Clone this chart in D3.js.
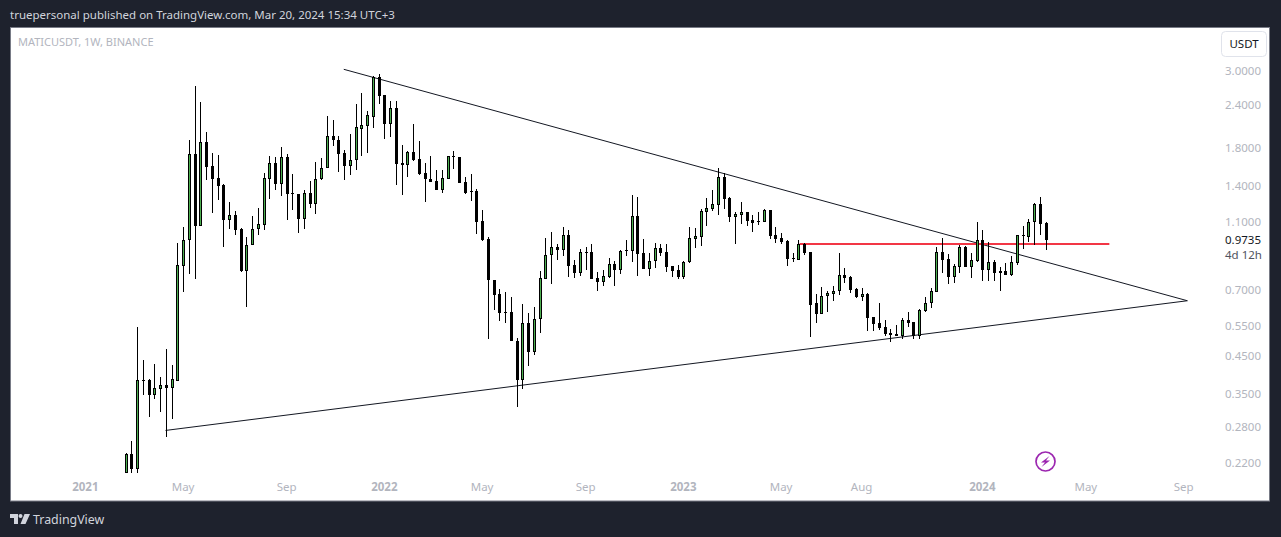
<!DOCTYPE html>
<html>
<head>
<meta charset="utf-8">
<script src="https://cdn.jsdelivr.net/npm/d3@7"></script>
<style>
html, body { margin: 0; padding: 0; background: #1e222d; overflow: hidden; }
text { font-family: "Noto Sans", sans-serif; }
</style>
</head>
<body>
<script>
// weekly candles, first one is the week of 2021-02-22
var firstWeek = new Date(Date.UTC(2021, 1, 22));
var opens = [.2057,.2335,.2113,.3824,.3824,.3461,.3609,.3699,.3634,.3806,.8195,.9703,1.7217,1.0696,1.8651,1.5887,1.4664,1.4003,1.1132,1.1465,1.0442,.7925,.9387,1.0486,1.0769,1.4633,1.6214,1.4154,1.6876,1.3275,1.3187,1.1208,1.3275,1.2387,1.4573,1.5675,1.9405,1.8901,
1.7367,1.5957,1.6542,2.0422,2.0833,2.2121,2.8766,2.5514,2.1114,2.3383,1.6214,1.6065,1.7448,1.6653,1.5168,1.4573,1.4410,1.3598,1.4633,1.6990,1.6876,1.4314,1.3499,1.3454,1.1015,.9770,.7433,.6771,.6017,.6005,.4950,.3832,.5581,.4618,.5732,.7514,.8781,.9262,.9077,1.0034,
.8232,.7820,.8959,.8959,.7533,.7364,.7614,.8270,.7978,.9077,.9055,1.1389,.8899,.8032,.8438,.9200,.8959,.8161,.7946,.7614,.8415,.9810,.9941,1.1743,1.1980,1.2305,1.4770,1.2840,1.1358,1.1511,1.1696,1.1089,1.1052,1.0985,1.1854,1.0034,.9835,.9640,.8607,.8528,.9449,.8959,.6377,
.5950,.6682,.6799,.6908,.7686,.7584,.7000,.6664,.6771,.5808,.5581,.5434,.5221,.5186,.5138,.5693,.5618,.5138,.6070,.6377,.6889,.8959,.8550,.7614,.8139,.9262,.8139,.8471,.9703,.7978,.8381,.7894,.7894,.7701,.8359,1.0054,.9941,1.0943,1.2337,1.0868];
var highs = [.2351,.2547,.5445,.4370,.3850,.4255,.3902,.4702,.4227,.9531,1.0604,1.8939,2.7145,2.4399,1.9977,1.7367,1.7137,1.4096,1.2503,1.1775,1.0508,.9921,1.1411,1.2037,1.5199,1.6990,1.6876,1.8043,1.7217,1.5067,1.3187,1.3544,1.4410,1.6323,1.6798,2.2225,2.1597,1.9405,
1.7683,1.9712,2.4075,2.5908,2.2978,2.9017,2.9347,2.5565,2.4562,2.4562,1.8318,1.7566,2.1070,1.8813,1.6247,1.7023,1.5506,1.5506,1.7023,1.7635,1.6910,1.4799,1.5098,1.3634,1.1901,.9921,.7448,.7014,.6876,.6637,.5050,.6348,.5977,.6209,.7909,.9855,1.0237,.9468,1.0583,1.0395,
.8494,.9158,.9262,.9449,.7841,.7946,.8607,.8438,.9077,.9724,1.3100,1.2952,.9770,.8899,.9512,.9449,.9449,.8193,.8216,.8438,1.0583,1.0508,1.1981,1.2840,1.3544,1.5675,1.5168,1.2926,1.1696,1.2503,1.1720,1.1465,1.1696,1.1933,1.1854,1.0583,1.0168,.9703,.8899,.9703,.9512,.8977,.6771,
.7094,.6908,.7142,.8899,.8052,.7635,.7047,.7047,.6816,.5808,.6389,.5694,.5362,.5518,.5770,.6005,.5630,.6128,.6650,.7047,.9281,.9835,.8858,.8270,.9420,.9361,.8899,1.0943,1.0374,.9576,.8494,.8111,.8326,.8723,1.0034,1.0654,1.1163,1.2470,1.2926,1.0943];
var lows = [.2055,.2057,.2061,.3467,.2994,.3377,.3096,.2620,.2955,.3806,.6889,.7768,.7514,1.0696,1.4536,1.1666,1.2722,.9299,1.0486,1.0075,.7872,.6234,.9387,1.0075,1.0395,1.2807,1.3598,1.3065,1.1132,1.1901,1.0210,1.0486,1.2064,1.1588,1.4477,1.5675,1.8233,1.5331,
1.4536,1.5028,1.5537,1.7057,1.7403,2.0563,2.4125,1.9105,1.9360,1.4059,1.3153,1.4829,1.6497,1.5028,1.2553,1.4342,1.3598,1.3329,1.4573,1.5642,1.4248,1.3241,1.2587,1.0142,.9678,.5037,.6111,.5678,.5603,.4970,.3188,.3609,.4207,.4518,.5242,.7514,.7267,.8528,.8758,.7614,
.7565,.7665,.7978,.7514,.6935,.7170,.7565,.7170,.7768,.8758,.8415,.7665,.8032,.7665,.8086,.8758,.7872,.7614,.7514,.7514,.8359,.9238,.9361,1.0696,1.1821,1.1487,1.1981,1.0985,.9488,1.0841,1.0696,1.0277,1.0769,1.0985,.9810,.9512,.9449,.8193,.8415,.8494,.8817,.5104,.5603,
.5950,.6029,.6488,.6753,.7315,.6844,.6593,.6488,.5312,.5312,.5348,.5138,.4937,.5138,.5037,.5456,.5037,.5037,.6029,.6193,.6889,.7820,.7267,.7315,.7820,.8139,.7565,.8415,.7413,.7413,.7413,.6935,.7717,.7650,.8249,.9140,.9595,.9387,1.0075,.9120];
var closes = [.2335,.2113,.3824,.3810,.3467,.3625,.3699,.3634,.3842,.8216,.9703,1.7217,1.0696,1.8651,1.5851,1.4633,1.3965,1.1132,1.1465,1.0416,.7909,.9387,1.0486,1.0797,1.4664,1.6214,1.4154,1.6876,1.3241,1.3187,1.1208,1.3275,1.2387,1.4573,1.5675,1.9405,1.8901,1.7287,
1.5957,1.6542,2.0616,2.0889,2.2329,2.8766,2.5445,2.1114,2.3383,1.6172,1.6065,1.7448,1.6609,1.5129,1.4573,1.4342,1.3598,1.4664,1.6990,1.6944,1.4248,1.3329,1.3418,1.0985,.9724,.7433,.6753,.5990,.5990,.4970,.3832,.5581,.4618,.5732,.7533,.8781,.9262,.9077,1.0034,.8193,
.7820,.8959,.8917,.7514,.7364,.7635,.8270,.7978,.9019,.9077,1.1389,.8876,.8032,.8438,.9200,.8935,.8139,.7925,.7614,.8415,.9835,.9968,1.1775,1.2012,1.2337,1.4770,1.2807,1.1358,1.1541,1.1696,1.1059,1.0913,1.0985,1.1854,1.0007,.9810,.9595,.8585,.8568,.9449,.8935,.6318,.5950,
.6682,.6816,.6908,.7686,.7565,.6982,.6664,.6771,.5793,.5566,.5420,.5197,.5162,.5138,.5693,.5603,.5138,.6085,.6377,.6908,.8959,.8528,.7614,.8161,.9262,.8139,.8494,.9703,.7978,.8381,.7820,.7820,.7717,.8381,1.0034,1.0007,1.0943,1.2337,1.0841,.9735];

var priceTicks = [3.0, 2.4, 1.8, 1.4, 1.1, 0.7, 0.55, 0.45, 0.35, 0.28, 0.22];
var timeTicks = ['2021-01-04','2021-05-03','2021-09-06','2022-01-03','2022-05-02','2022-09-05','2023-01-02','2023-05-01','2023-08-07','2024-01-01','2024-05-06','2024-09-02'];
var timeLabels = ['2021','May','Sep','2022','May','Sep','2023','May','Aug','2024','May','Sep'];
var lastPrice = 0.9735;

// drawn lines: dates and prices of both ends
var upperDates = ['2021-11-14','2024-09-06'], upperPrices = [3.034, 0.6488];
var lowerDates = ['2021-04-11','2024-09-06'], lowerPrices = [0.2733, 0.6488];
var redDates = ['2023-05-23','2024-06-03'], redPrices = [0.9468, 0.9468];

var w = 1281, h = 537;
var candles = opens.map(function (o, i) {
    return {date: d3.utcDay.offset(firstWeek, i * 7), o: o, h: highs[i], l: lows[i], c: closes[i]};
});

var x = d3.scaleUtc()
    .domain([firstWeek, d3.utcDay.offset(firstWeek, 160 * 7)])
    .range([126.1, 1046.1]);
var y = d3.scaleLog()
    .domain([3, 0.22])
    .range([71, 463]);

// candle pixel columns and rows, snapped so they stay sharp
function col(d) { return Math.floor(x(d.date)); }
function row(v) { return Math.round(y(v)); }
function bodyHeight(d) { return Math.max(1, row(Math.min(d.o, d.c)) - row(Math.max(d.o, d.c))); }

var canvas = d3.select('body').append('svg')
    .attr('width', w)
    .attr('height', h)
    .style('display', 'block');

canvas.append('text')
    .attr('x', 10).attr('y', 19)
    .attr('fill', '#d1d4dc')
    .style('font-size', '11.5px')
    .text('truepersonal published on TradingView.com, Mar 20, 2024 15:34 UTC+3');

canvas.append('rect')
    .attr('x', 10.5).attr('y', 27.5)
    .attr('width', 1259).attr('height', 473.5)
    .attr('fill', '#fff')
    .attr('stroke', '#787b86');

canvas.append('text')
    .attr('x', 18).attr('y', 46)
    .attr('fill', '#b2b5be')
    .style('font-size', '11px')
    .text('MATICUSDT, 1W, BINANCE');

// trend lines, under the candles
function drawLine(dates, prices, color, width) {
    canvas.append('line')
        .attr('x1', x(new Date(dates[0]))).attr('y1', y(prices[0]))
        .attr('x2', x(new Date(dates[1]))).attr('y2', y(prices[1]))
        .attr('stroke', color)
        .attr('stroke-width', width);
}
drawLine(upperDates, upperPrices, '#131722', 1);
drawLine(lowerDates, lowerPrices, '#131722', 1);
drawLine(redDates, redPrices, '#f23645', 2);

// candles
var marks = canvas.append('g').selectAll('g')
    .data(candles)
    .enter().append('g');
marks.append('rect')
    .attr('x', col)
    .attr('width', 1)
    .attr('y', function (d) { return row(d.h); })
    .attr('height', function (d) { return row(d.l) - row(d.h); })
    .attr('fill', '#000');
marks.append('rect')
    .attr('x', function (d) { return col(d) - 1; })
    .attr('width', 3)
    .attr('y', function (d) { return row(Math.max(d.o, d.c)); })
    .attr('height', bodyHeight)
    .attr('fill', '#000');
marks.filter(function (d) { return d.c > d.o && bodyHeight(d) > 2; })
    .append('rect')
    .attr('x', col)
    .attr('width', 1)
    .attr('y', function (d) { return row(d.c) + 1; })
    .attr('height', function (d) { return bodyHeight(d) - 2; })
    .attr('fill', '#4caf50');

// axes
var yAxis = canvas.append('g')
    .attr('transform', 'translate(1225,0)')
    .call(d3.axisRight(y).tickValues(priceTicks).tickSize(0).tickPadding(0)
        .tickFormat(function (d) { return d.toFixed(4); }));
yAxis.select('.domain').remove();
yAxis.selectAll('text')
    .attr('fill', '#b2b5be')
    .style('font-size', '11.5px');

var xAxis = canvas.append('g')
    .attr('transform', 'translate(-1,483)')
    .call(d3.axisBottom(x).tickValues(timeTicks.map(function (d) { return new Date(d); })).tickSize(0).tickPadding(0)
        .tickFormat(function (d, i) { return timeLabels[i]; }));
xAxis.select('.domain').remove();
xAxis.selectAll('text')
    .attr('fill', '#b2b5be')
    .style('font-size', '11.5px')
    .style('font-weight', function (d, i) { return timeLabels[i].length == 4 ? 'bold' : 'normal'; });

// last price and countdown
canvas.append('text')
    .attr('x', 1225).attr('y', y(lastPrice)).attr('dy', '0.32em')
    .attr('fill', '#131722')
    .style('font-size', '11.5px')
    .text(lastPrice.toFixed(4));
canvas.append('text')
    .attr('x', 1225).attr('y', y(lastPrice) + 15).attr('dy', '0.32em')
    .attr('fill', '#50535e')
    .style('font-size', '11.5px')
    .text('4d 12h');

// currency button
canvas.append('rect')
    .attr('x', 1221.5).attr('y', 31.5)
    .attr('width', 45).attr('height', 25).attr('rx', 4)
    .attr('fill', '#fff')
    .attr('stroke', '#e0e3eb');
canvas.append('text')
    .attr('x', 1244).attr('y', 48).attr('text-anchor', 'middle')
    .attr('fill', '#131722')
    .style('font-size', '11.5px')
    .text('USDT');

// lightning badge
canvas.append('circle')
    .attr('cx', 1045.5).attr('cy', 461.5).attr('r', 9.5)
    .attr('fill', 'none')
    .attr('stroke', '#9c27b0')
    .attr('stroke-width', 1.7);
canvas.append('path')
    .attr('d', 'M1049.5 456 L1041 462.5 L1045 462.5 L1041.5 467 L1050 460.5 L1046 460.5 Z')
    .attr('fill', '#9c27b0');

// logo
canvas.append('path')
    .attr('d', 'M10 514 H18 V524 H14 V518 H10 Z M24.5 514 H30 L25.5 524 H20.5 Z')
    .attr('fill', '#d1d4dc');
canvas.append('circle')
    .attr('cx', 20.5).attr('cy', 516).attr('r', 2)
    .attr('fill', '#d1d4dc');
canvas.append('text')
    .attr('x', 33).attr('y', 524)
    .attr('fill', '#d1d4dc')
    .style('font-size', '12.4px')
    .text('TradingView');
</script>
</body>
</html>
